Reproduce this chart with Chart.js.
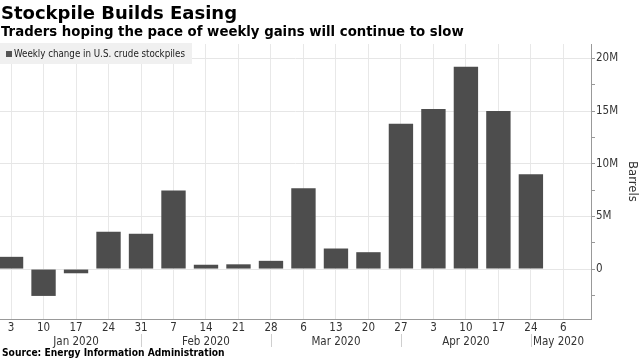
<!DOCTYPE html>
<html>
<head>
<meta charset="utf-8">
<script src="https://cdn.jsdelivr.net/npm/chart.js@4.4.1/dist/chart.umd.min.js"></script>
<style>
  html, body { margin: 0; padding: 0; background: #fff; }
  #wrap { position: relative; width: 640px; height: 360px; overflow: hidden; }
  #c { position: absolute; left: 0; top: 0; }
  .t { position: absolute; white-space: nowrap; color: #000; font-family: "DejaVu Sans Condensed", "DejaVu Sans", sans-serif; }
  #title { left: 1px; top: 4px; font-family: "DejaVu Sans", sans-serif; font-size: 18px; line-height: 18px; font-weight: bold; }
  #sub { left: 1px; top: 25px; font-family: "DejaVu Sans", sans-serif; font-size: 13.3px; line-height: 13px; font-weight: bold; }
  #legend { position: absolute; left: 0; top: 43px; width: 192px; height: 21px; background: #f0f0f0; }
  #legsq { position: absolute; left: 6px; top: 51px; width: 6px; height: 6px; background: #555; }
  #legtxt { left: 14px; top: 48px; font-size: 9.7px; line-height: 12px; color: #222; font-weight: normal; }
  #source { left: 2px; top: 347px; font-size: 10.2px; line-height: 12px; font-weight: bold; }
</style>
</head>
<body>
<div id="wrap">
  <canvas id="c" width="640" height="360"></canvas>
  <div id="legend"></div>
  <div id="legsq"></div>
  <div class="t" id="legtxt">Weekly change in U.S. crude stockpiles</div>
  <div class="t" id="title">Stockpile Builds Easing</div>
  <div class="t" id="sub">Traders hoping the pace of weekly gains will continue to slow</div>
  <div class="t" id="source">Source: Energy Information Administration</div>
</div>
<script>
// Week-ending dates (day of month) and their month
const dayLabels = ['3','10','17','24','31','7','14','21','28','6','13','20','27','3','10','17','24','6'];
const weekMonths = ['Jan','Jan','Jan','Jan','Jan','Feb','Feb','Feb','Feb','Mar','Mar','Mar','Mar','Apr','Apr','Apr','Apr','May'];
// Weekly change in U.S. crude stockpiles (barrels)
const weeklyChange = [1160000, -2550000, -400000, 3550000, 3350000, 7460000, 410000, 450000, 780000, 7660000, 1950000, 1600000, 13800000, 15200000, 19200000, 15000000, 9000000, null];
// Month labels and their positions on the week index axis
const monthLabels = ['Jan 2020', 'Feb 2020', 'Mar 2020', 'Apr 2020', 'May 2020'];
const monthPos = [2, 6, 10, 14, 16.85];
// Y axis ticks (barrels); labelled every 5M
const yTicks = [-2500000, 0, 2500000, 5000000, 7500000, 10000000, 12500000, 15000000, 17500000, 20000000];
const yTickLabel = v => (v === 0 ? '0' : (v / 1e6) + 'M');

const FONT = '"DejaVu Sans Condensed", "DejaVu Sans", sans-serif';

const separators = {
  id: 'separators',
  afterDraw(chart) {
    const xs = chart.scales.x, x2 = chart.scales.x2;
    const ctx = chart.ctx;
    ctx.save();
    ctx.strokeStyle = '#cfcfcf';
    ctx.lineWidth = 1;
    for (let i = 0; i < weekMonths.length - 1; i++) {
      if (weekMonths[i] !== weekMonths[i + 1]) {
        const px = Math.round(xs.getPixelForValue(i)) + 0.5;
        ctx.beginPath();
        ctx.moveTo(px, x2.top);
        ctx.lineTo(px, x2.top + 13);
        ctx.stroke();
      }
    }
    ctx.restore();
  }
};

new Chart(document.getElementById('c'), {
  type: 'bar',
  data: {
    datasets: [{
      label: 'Weekly change in U.S. crude stockpiles',
      data: weeklyChange.map((v, i) => ({ x: i, y: v })),
      backgroundColor: '#4d4d4d',
      borderWidth: 0,
      barPercentage: 0.75,
      categoryPercentage: 1
    }]
  },
  options: {
    responsive: false,
    animation: false,
    layout: { padding: { top: 44, left: 0, right: 0, bottom: 0 } },
    plugins: { legend: { display: false }, tooltip: { enabled: false }, title: { display: false } },
    scales: {
      x: {
        type: 'linear',
        position: 'bottom',
        offset: false,
        weight: 0,
        min: -0.34,
        max: 17.85,
        grid: { color: '#e8e8e8', drawTicks: false, offset: false },
        border: { color: '#999' },
        afterBuildTicks: s => { s.ticks = dayLabels.map((_, i) => ({ value: i })); },
        ticks: {
          autoSkip: false,
          maxRotation: 0,
          padding: 2,
          color: '#333',
          font: { family: FONT, size: 11.5 },
          callback: (v, i) => dayLabels[i]
        },
        afterFit: s => { s.height = 15; }
      },
      x2: {
        type: 'linear',
        position: 'bottom',
        offset: false,
        weight: 1,
        min: -0.34,
        max: 17.85,
        grid: { display: false, drawTicks: false, offset: false },
        border: { display: false },
        afterBuildTicks: s => { s.ticks = monthPos.map(v => ({ value: v })); },
        ticks: {
          autoSkip: false,
          maxRotation: 0,
          padding: 1,
          color: '#333',
          font: { family: FONT, size: 11.5 },
          callback: (v, i) => monthLabels[i]
        },
        afterFit: s => { s.height = 26; }
      },
      y: {
        type: 'linear',
        position: 'right',
        min: -4740000,
        max: 21360000,
        grid: {
          color: c => (c.tick && c.tick.value % 5000000 === 0 ? '#e6e6e6' : 'rgba(0,0,0,0)'),
          tickColor: '#999',
          tickLength: 4
        },
        border: { color: '#999' },
        afterBuildTicks: s => { s.ticks = yTicks.map(v => ({ value: v })); },
        ticks: {
          autoSkip: false,
          padding: 1,
          color: '#333',
          font: { family: FONT, size: 11.5 },
          callback: v => (v % 5000000 === 0 ? yTickLabel(v) : '')
        },
        title: { display: true, text: 'Barrels', color: '#333', font: { family: FONT, size: 13 }, padding: 0 },
        afterFit: s => { s.width = 49; }
      }
    }
  },
  plugins: [separators]
});
</script>
</body>
</html>
